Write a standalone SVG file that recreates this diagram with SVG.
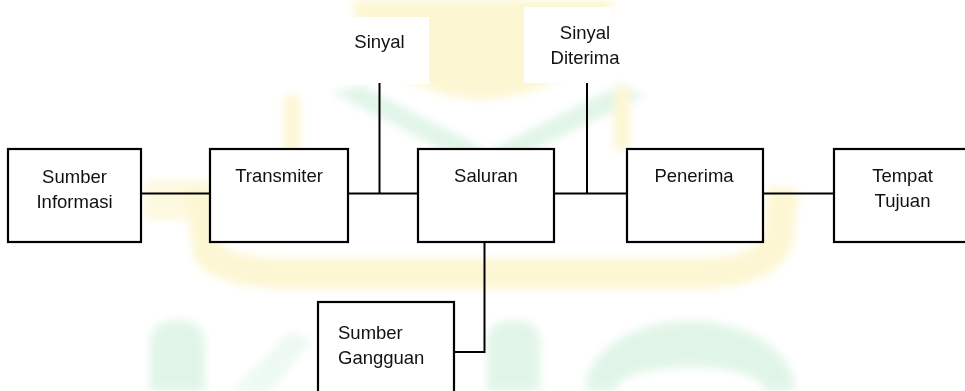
<svg xmlns="http://www.w3.org/2000/svg" width="965" height="391" viewBox="0 0 965 391">
  <defs>
    <filter id="soft" x="-10%" y="-10%" width="120%" height="120%">
      <feGaussianBlur stdDeviation="4"/>
    </filter>
    <style>
      .box { fill: #ffffff; stroke: #000000; stroke-width: 2.2; }
      .wire { fill: none; stroke: #000000; stroke-width: 2; }
      .lbl { font-family: "Liberation Sans", Arial, sans-serif; font-size: 18.5px; fill: #111111; }
      .mid { text-anchor: middle; }
      .yel { fill: #fcf4c8; }
      .grn { fill: #d9f3e2; }
    </style>
  </defs>

  <rect width="965" height="391" fill="#ffffff"/>

  <!-- faint background emblem -->
  <g id="emblem" filter="url(#soft)" opacity="0.8">
    <path class="yel" d="M352,0 L612,0 L606,38 Q570,92 482,100 Q398,92 362,40 Z"/>
    <path class="grn" d="M332,92 L362,86 L486,150 L462,160 Z"/>
    <path class="grn" d="M622,84 L644,96 L512,160 L490,150 Z"/>
    <rect class="yel" x="284" y="96" width="16" height="56"/>
    <rect class="yel" x="614" y="88" width="16" height="62"/>
    <path d="M200,185 L208,252 Q222,274 300,274 L700,274 Q772,270 778,238 L784,188" fill="none" stroke="#fcf4c8" stroke-width="30"/>
    <rect class="yel" x="145" y="180" width="60" height="40" opacity="0.7"/>
    <path class="grn" d="M150,391 L150,345 Q150,320 177,320 Q205,320 205,345 L205,391 Z"/>
    <path class="grn" d="M232,391 L290,332 L312,340 L270,391 Z" opacity="0.6"/>
    <path class="grn" d="M487,391 L487,345 Q487,320 513,320 Q540,320 540,345 L540,391 Z"/>
    <path class="grn" fill-rule="evenodd" d="M585,391 A105,70 0 0 1 795,391 Z M615,391 A75,24 0 0 1 765,391 Z"/>
  </g>

  <!-- label backdrops -->
  <rect x="330" y="17" width="99" height="67" fill="#ffffff"/>
  <rect x="524" y="7" width="88" height="76" fill="#ffffff"/>

  <g id="connectors">
    <line class="wire" x1="141" y1="193.5" x2="210" y2="193.5"/>
    <line class="wire" x1="348" y1="193.5" x2="418" y2="193.5"/>
    <line class="wire" x1="554" y1="193.5" x2="627" y2="193.5"/>
    <line class="wire" x1="763" y1="193.5" x2="834" y2="193.5"/>
    <line class="wire" x1="379.5" y1="83" x2="379.5" y2="193.5"/>
    <line class="wire" x1="587" y1="83" x2="587" y2="193.5"/>
    <polyline class="wire" points="484.5,242 484.5,352 454,352"/>
  </g>

  <g id="sumber-informasi">
    <rect class="box" x="8" y="149" width="133" height="93"/>
    <text class="lbl mid" x="74.5" y="183">Sumber</text>
    <text class="lbl mid" x="74.5" y="208">Informasi</text>
  </g>

  <g id="transmiter">
    <rect class="box" x="210" y="149" width="138" height="93"/>
    <text class="lbl mid" x="279" y="182">Transmiter</text>
  </g>

  <g id="saluran">
    <rect class="box" x="418" y="149" width="136" height="93"/>
    <text class="lbl mid" x="486" y="182">Saluran</text>
  </g>

  <g id="penerima">
    <rect class="box" x="627" y="149" width="136" height="93"/>
    <text class="lbl mid" x="694" y="182">Penerima</text>
  </g>

  <g id="tempat-tujuan">
    <rect class="box" x="834" y="149" width="137" height="93"/>
    <text class="lbl mid" x="902.5" y="182">Tempat</text>
    <text class="lbl mid" x="902.5" y="207">Tujuan</text>
  </g>

  <g id="sumber-gangguan">
    <rect class="box" x="318" y="302" width="136" height="100"/>
    <text class="lbl" x="338" y="339">Sumber</text>
    <text class="lbl" x="338" y="364">Gangguan</text>
  </g>

  <g id="sinyal">
    <text class="lbl mid" x="379.5" y="48">Sinyal</text>
  </g>

  <g id="sinyal-diterima">
    <text class="lbl mid" x="585" y="38.5">Sinyal</text>
    <text class="lbl mid" x="585" y="63.5">Diterima</text>
  </g>
</svg>
